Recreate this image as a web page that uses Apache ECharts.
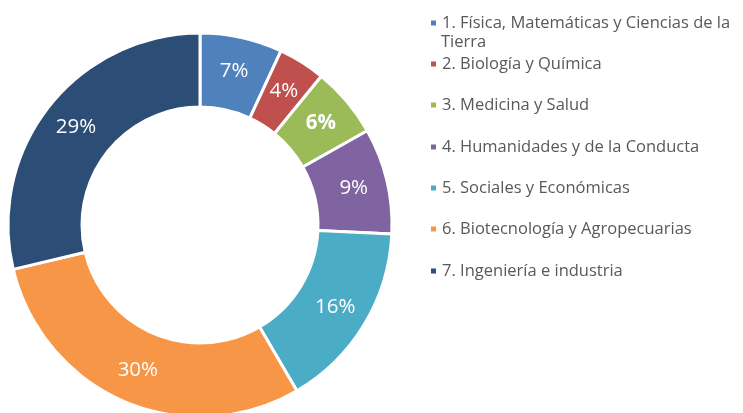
<!DOCTYPE html>
<html>
<head>
<meta charset="utf-8">
<script src="https://cdn.jsdelivr.net/npm/echarts@6/dist/echarts.min.js"></script>
<style>
    html, body { margin: 0; padding: 0; background: #ffffff; }
    #area-chart { width: 743px; height: 413px; }
</style>
</head>
<body>
<div id="area-chart"></div>
<script>
var areas = [
    '1. Física, Matemáticas y Ciencias de la Tierra',
    '2. Biología y Química',
    '3. Medicina y Salud',
    '4. Humanidades y de la Conducta',
    '5. Sociales y Económicas',
    '6. Biotecnología y Agropecuarias',
    '7. Ingeniería e industria'
];
var shares = [7, 4, 6, 9, 16, 30, 29];
var colors = ['#4F81BD', '#C0504D', '#9BBB59', '#8064A2', '#4BACC6', '#F79646', '#2C4D75'];
var legendRows = [22, 63, 104, 146, 187, 228, 270];

var myChart = echarts.init(document.getElementById('area-chart'));

var data = [];
shares.forEach(function (v, i) {
    data.push({
        name: areas[i],
        value: v,
        label: i == 2 ? { fontWeight: 'bold' } : {}
    });
});

// una leyenda por renglón para poder ubicarlos
var legends = [];
areas.forEach(function (name, i) {
    legends.push({
        data: [name],
        orient: 'vertical',
        left: 424,
        top: legendRows[i] - 14,
        icon: 'rect',
        itemWidth: 7,
        itemHeight: 7,
        selectedMode: false,
        formatter: function (n) {
            return i == 0 ? '1. Física, Matemáticas y Ciencias de la' : n;
        },
        textStyle: {
            color: '#595959',
            fontSize: 16.5,
            lineHeight: 20,
            fontFamily: 'Open Sans'
        }
    });
});

option = {
    backgroundColor: '#ffffff',
    color: colors,
    animation: false,
    legend: legends,
    graphic: [{
        type: 'text',
        left: 441,
        top: 34,
        style: {
            text: 'Tierra',
            fill: '#595959',
            font: '16.5px "Open Sans"'
        }
    }],
    series: [{
        type: 'pie',
        center: [200, 225],
        radius: [118, 192],
        startAngle: 90,
        clockwise: true,
        itemStyle: {
            borderColor: '#ffffff',
            borderWidth: 3
        },
        label: {
            position: 'inside',
            formatter: '{c}%',
            color: '#ffffff',
            fontSize: 20.5,
            fontFamily: 'Open Sans'
        },
        labelLine: { show: false },
        data: data
    }]
};
myChart.setOption(option);
</script>
</body>
</html>
